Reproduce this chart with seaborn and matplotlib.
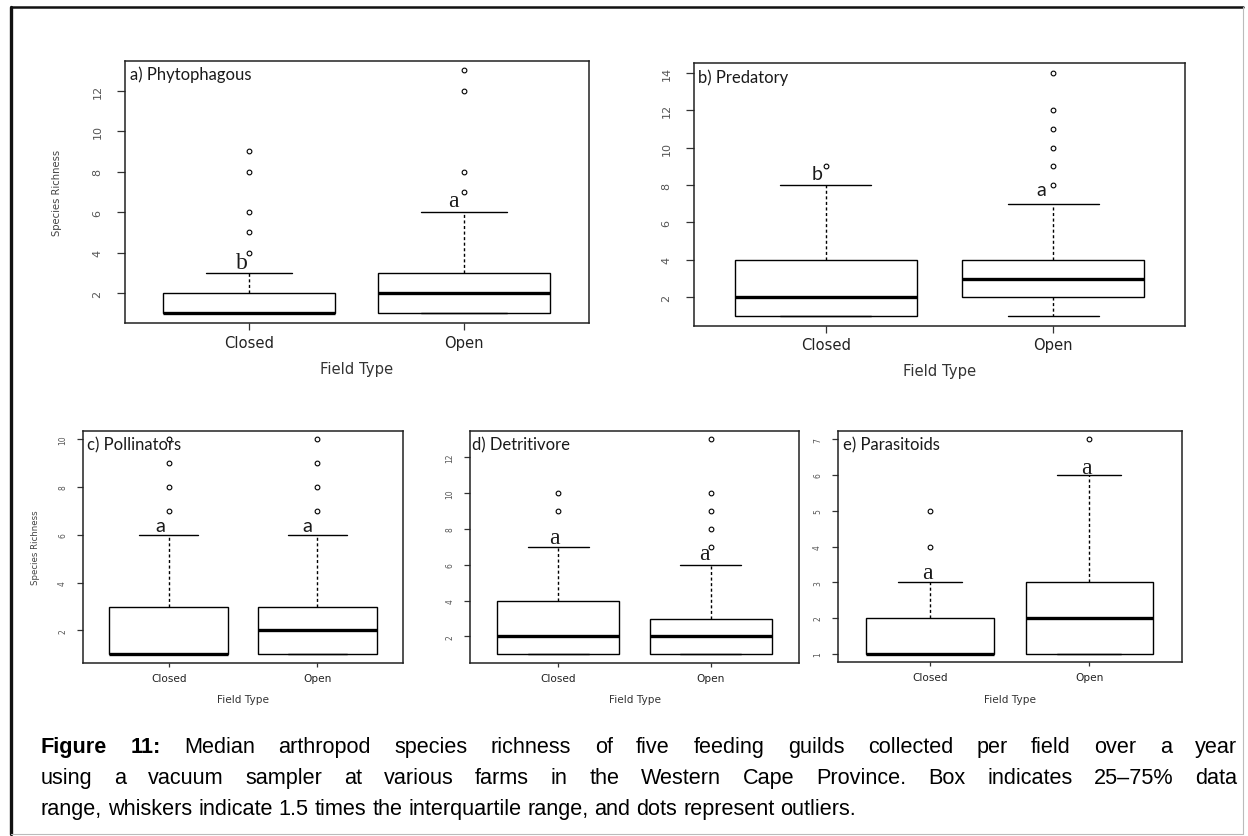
import numpy as np
import pandas as pd
import matplotlib
matplotlib.use("Agg")
import matplotlib.pyplot as plt
import matplotlib.transforms as mtransforms
from matplotlib.lines import Line2D
import seaborn as sns

# ---------------------------------------------------------------------------
# Data: species richness per field, stored as value -> number of fields
# ---------------------------------------------------------------------------
field_types = ["Closed", "Open"]

phyto_closed_values = [1, 2, 3, 4, 5, 6, 8, 9]
phyto_closed_counts = [22, 10, 3, 1, 1, 1, 1, 1]
phyto_open_values = [1, 2, 3, 4, 5, 6, 7, 8, 12, 13]
phyto_open_counts = [12, 12, 8, 2, 1, 1, 1, 1, 1, 1]

pred_closed_values = [1, 2, 3, 4, 5, 6, 7, 8, 9]
pred_closed_counts = [11, 10, 5, 5, 3, 2, 2, 1, 1]
pred_open_values = [1, 2, 3, 4, 5, 6, 7, 8, 9, 10, 11, 12, 14]
pred_open_counts = [2, 9, 10, 10, 1, 1, 1, 1, 1, 1, 1, 1, 1]

poll_closed_values = [1, 2, 3, 4, 5, 6, 7, 8, 9, 10]
poll_closed_counts = [21, 5, 6, 2, 1, 1, 1, 1, 1, 1]
poll_open_values = [1, 2, 3, 4, 5, 6, 7, 8, 9, 10]
poll_open_counts = [12, 12, 8, 2, 1, 1, 1, 1, 1, 1]

detr_closed_values = [1, 2, 3, 4, 5, 6, 7, 9, 10]
detr_closed_counts = [11, 10, 5, 5, 3, 2, 2, 1, 1]
detr_open_values = [1, 2, 3, 4, 5, 6, 7, 8, 9, 10, 13]
detr_open_counts = [12, 12, 8, 1, 1, 1, 1, 1, 1, 1, 1]

para_closed_values = [1, 2, 3, 4, 5]
para_closed_counts = [22, 10, 6, 1, 1]
para_open_values = [1, 2, 3, 4, 5, 6, 7]
para_open_counts = [12, 12, 8, 3, 2, 2, 1]

panel_titles = ["a) Phytophagous", "b) Predatory", "c) Pollinators",
                "d) Detritivore", "e) Parasitoids"]
# significance letters (Closed, Open)
sig_letters = [("b", "a"), ("b", "a"), ("a", "a"), ("a", "a"), ("a", "a")]
y_tick_steps = [2, 2, 2, 2, 1]

caption_text = [
    "Figure 11: Median arthropod species richness of five feeding guilds collected per field over a year",
    "using a vacuum sampler at various farms in the Western Cape Province. Box indicates 25\u201375% data",
    "range, whiskers indicate 1.5 times the interquartile range, and dots represent outliers.",
]


def guild_frame(closed_values, closed_counts, open_values, open_counts):
    richness = np.concatenate([np.repeat(closed_values, closed_counts),
                               np.repeat(open_values, open_counts)])
    field = np.repeat(field_types, [sum(closed_counts), sum(open_counts)])
    return pd.DataFrame({"Field Type": field, "Species Richness": richness})


guilds = [
    guild_frame(phyto_closed_values, phyto_closed_counts, phyto_open_values, phyto_open_counts),
    guild_frame(pred_closed_values, pred_closed_counts, pred_open_values, pred_open_counts),
    guild_frame(poll_closed_values, poll_closed_counts, poll_open_values, poll_open_counts),
    guild_frame(detr_closed_values, detr_closed_counts, detr_open_values, detr_open_counts),
    guild_frame(para_closed_values, para_closed_counts, para_open_values, para_open_counts),
]

# ---------------------------------------------------------------------------
# Figure layout (pixel boxes: left, top, right, bottom)
# ---------------------------------------------------------------------------
W, H, DPI = 1248, 837, 100
sns.set_style("white")
plt.rcParams["font.family"] = ["DejaVu Sans"]

fig = plt.figure(figsize=(W / DPI, H / DPI), dpi=DPI)
fig.patch.set_facecolor("white")

boxes_px = [
    (124.6, 61.7, 588.9, 324.0),
    (693.6, 64.0, 1185.3, 326.7),
    (82.7, 431.7, 403.3, 664.0),
    (470.0, 431.7, 799.3, 664.0),
    (837.7, 431.7, 1181.7, 663.3),
]
top_row = [True, True, False, False, False]
show_ylabel = [True, False, True, False, False]
title_offsets = [(5.8, 13.3), (4.6, 13.3), (4.0, 13.3), (1.7, 13.3), (5.6, 13.3)]
letter_serif = [True, False, False, True, True]
letter_size = [17, 14, 14.5, 17, 17]
# letter anchors in data units: (x, baseline y) for Closed and Open
letter_pos = [
    ((-0.033, 3.22), (0.950, 6.30)),
    ((-0.036, 8.30), (0.946, 7.45)),
    ((-0.056, 6.17), (0.930, 6.17)),
    ((-0.026, 7.24), (0.956, 6.31)),
    ((-0.017, 3.12), (0.980, 6.05)),
]
title_font = ["Lato", "DejaVu Sans"]

for i, df in enumerate(guilds):
    left, top, right, bottom = boxes_px[i]
    ax = fig.add_axes([left / W, 1 - bottom / H, (right - left) / W, (bottom - top) / H])
    big = top_row[i]

    sns.boxplot(
        data=df, x="Field Type", y="Species Richness", order=field_types, ax=ax,
        width=0.8, color="white", linecolor="black", linewidth=1.0, whis=1.5,
        fliersize=3.4,
        medianprops=dict(linewidth=2.4),
        whiskerprops=dict(linestyle=(0, (2.2, 1.8))),
        flierprops=dict(marker="o", markerfacecolor="none",
                        markeredgecolor="black", markeredgewidth=0.8),
    )

    lo = df["Species Richness"].min()
    hi = df["Species Richness"].max()
    pad = 0.04 * (hi - lo)
    ax.set_ylim(lo - pad, hi + pad)
    ax.set_xlim(-0.58, 1.58)
    step = y_tick_steps[i]
    ax.set_yticks(np.arange(2 if step == 2 else 1, hi + 0.5, step))

    for sp in ax.spines.values():
        sp.set_visible(True)
        sp.set_color("#222222")
        sp.set_linewidth(1.1)

    tick_fs = 8 if big else 5.5
    xt_fs = 10.6 if big else 7.6
    ax.tick_params(axis="y", direction="out", length=5.5 if big else 4.3, width=0.9,
                   color="#333333", labelsize=tick_fs, labelcolor="#555555",
                   pad=10.5 if big else 7.0, left=True)
    ax.tick_params(axis="x", direction="out", length=5.3 if big else 3.0, width=0.9,
                   color="#333333", labelsize=xt_fs, labelcolor="#222222",
                   pad=3.0 if big else 4.3, bottom=True)
    for lab in ax.get_yticklabels():
        lab.set_rotation(90)
        lab.set_va("center")

    ax.set_xlabel("Field Type", fontsize=xt_fs, color="#333333", labelpad=8)
    if show_ylabel[i]:
        ax.set_ylabel("Species Richness", fontsize=7.2 if big else 6.2,
                      color="#444444", va="center")
        ax.yaxis.set_label_coords(-0.146, 0.5)
    else:
        ax.set_ylabel("")

    dx, dy = title_offsets[i]
    tr = mtransforms.offset_copy(ax.transAxes, fig=fig, x=dx, y=-dy, units="dots")
    ax.text(0, 1, panel_titles[i], transform=tr, ha="left", va="center",
            fontsize=12, family=title_font, color="#1a1a1a")

    fam = ["Liberation Serif", "DejaVu Serif"] if letter_serif[i] else title_font
    for (lx, ly), letter in zip(letter_pos[i], sig_letters[i]):
        ax.text(lx, ly, letter, ha="center", va="baseline", family=fam,
                fontsize=letter_size[i], color="#1a1a1a")

# ---------------------------------------------------------------------------
# Caption with justified lines
# ---------------------------------------------------------------------------
cap_left, cap_right = 40.7, 1237.5
cap_baselines = [752.7, 783.7, 814.7]
cap_size = 15.6
cap_family = ["Liberation Sans", "DejaVu Sans"]
renderer = fig.canvas.get_renderer()

probe = fig.text(0, 0, "x x", fontsize=cap_size, family=cap_family)
w_two = probe.get_window_extent(renderer).width
probe.set_text("xx")
space_w = w_two - probe.get_window_extent(renderer).width
probe.remove()

for li, line in enumerate(caption_text):
    words = line.split()
    arts = []
    for wi, word in enumerate(words):
        bold = li == 0 and wi < 2
        t = fig.text(0, 1 - cap_baselines[li] / H, word, fontsize=cap_size,
                     family=cap_family, weight="bold" if bold else "normal",
                     va="baseline", ha="left", color="black")
        arts.append(t)
    widths = [a.get_window_extent(renderer).width for a in arts]
    if li < len(caption_text) - 1:
        gap = (cap_right - cap_left - sum(widths)) / (len(words) - 1)
    else:
        gap = space_w
    x = cap_left
    for a, w in zip(arts, widths):
        a.set_x(x / W)
        x += w + gap

# page frame
frame = [((11, 8), (11, 835), 2.4, "#111111"),
         ((11, 8), (1243, 8), 1.8, "#111111"),
         ((1243, 8), (1243, 835), 0.8, "#bbbbbb"),
         ((11, 835), (1243, 835), 0.8, "#bbbbbb")]
for (x0, y0), (x1, y1), lw, col in frame:
    fig.add_artist(Line2D([x0 / W, x1 / W], [1 - y0 / H, 1 - y1 / H],
                          transform=fig.transFigure, lw=lw, color=col))

fig.savefig("out.png", dpi=DPI)
